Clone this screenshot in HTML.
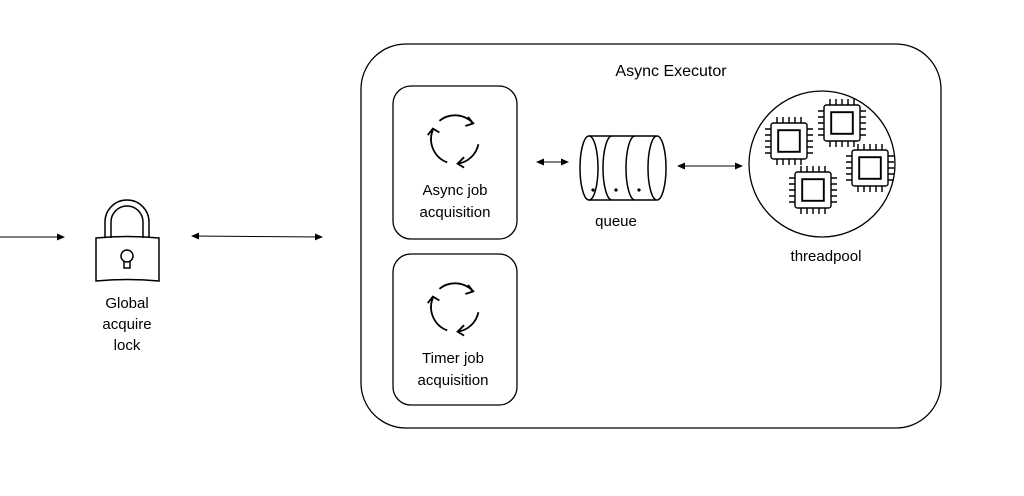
<!DOCTYPE html>
<html><head><style>body{margin:0;background:#fff}svg{display:block}text{font-family:"Liberation Sans",sans-serif;font-size:15px;fill:#000;text-anchor:middle}</style></head><body>
<svg width="1024" height="496" viewBox="0 0 1024 496">
<defs>
<marker id="a" markerWidth="8" markerHeight="8" refX="7" refY="4" orient="auto-start-reverse" markerUnits="userSpaceOnUse"><path d="M0,0.5 L8,4 L0,7.5z" fill="#000"/></marker>
<g id="chip" fill="none" stroke="#000" stroke-width="1.2">
<rect x="-15" y="-15" width="30" height="30" rx="2"/><rect x="-9" y="-9" width="18" height="18" stroke-width="1.6"/>
<path d="M-10,-15v-5M-5,-15v-5M0,-15v-5M5,-15v-5M10,-15v-5M-10,15v5M-5,15v5M0,15v5M5,15v5M10,15v5M-15,-10h-5M-15,-5h-5M-15,0h-5M-15,5h-5M-15,10h-5M15,-10h5M15,-5h5M15,0h5M15,5h5M15,10h5"/>
</g>
<g id="cyc" fill="none" stroke="#000" stroke-width="1.4">
<path d="M-12,-14 A19,19 0 0 1 14,-12"/><path d="M10,-17 L14,-12 L8,-10"/>
<path d="M18,4 A19,19 0 0 1 2,19"/><path d="M7,14 L2,19 L7,22"/>
<path d="M-6,18 A19,19 0 0 1 -17,-7"/><path d="M-21,-3 L-17,-8 L-12,-5"/>
</g>
</defs>
<line x1="0" y1="237" x2="64" y2="237" stroke="#000" marker-end="url(#a)"/>
<line x1="192" y1="236" x2="322" y2="237" stroke="#000" marker-start="url(#a)" marker-end="url(#a)"/>
<g fill="none" stroke="#000" stroke-width="1.5">
<path d="M105,238 V222 A22,22 0 0 1 149,222 V238 M111,238 V222 A16,16 0 0 1 143,222 V238"/>
<path d="M96,238 Q127,235 159,238 V281 Q127,278 96,281 Z"/>
<circle cx="127" cy="256" r="6"/><path d="M124,261 V268 H130 V261"/>
</g>
<text x="127" y="308">Global</text><text x="127" y="329">acquire</text><text x="127" y="350">lock</text>
<rect x="361" y="44" width="580" height="384" rx="45" fill="none" stroke="#000" stroke-width="1.3"/>
<text x="671" y="76" style="font-size:16px">Async Executor</text>
<rect x="393" y="86" width="124" height="153" rx="18" fill="none" stroke="#000" stroke-width="1.3"/>
<rect x="393" y="254" width="124" height="151" rx="18" fill="none" stroke="#000" stroke-width="1.3"/>
<use href="#cyc" transform="translate(455,139) scale(1.3)"/><use href="#cyc" transform="translate(455,307) scale(1.3)"/>
<text x="455" y="195">Async job</text><text x="455" y="217">acquisition</text>
<text x="453" y="363">Timer job</text><text x="453" y="385">acquisition</text>
<line x1="537" y1="162" x2="568" y2="162" stroke="#000" marker-start="url(#a)" marker-end="url(#a)"/>
<line x1="678" y1="166" x2="742" y2="166" stroke="#000" marker-start="url(#a)" marker-end="url(#a)"/>
<g fill="none" stroke="#000" stroke-width="1.5">
<path d="M589,136 H656 M589,200 H656"/>
<ellipse cx="589" cy="168" rx="9" ry="32"/>
<path d="M612,136 A9,32 0 0 0 612,200 M635,136 A9,32 0 0 0 635,200"/>
<ellipse cx="657" cy="168" rx="9" ry="32"/>
</g>
<circle cx="593" cy="190" r="1.6"/><circle cx="616" cy="190" r="1.6"/><circle cx="639" cy="190" r="1.6"/>
<text x="616" y="226">queue</text>
<circle cx="822" cy="164" r="73" fill="none" stroke="#000" stroke-width="1.3"/>
<use href="#chip" transform="translate(789,141) scale(1.2)"/><use href="#chip" transform="translate(842,123) scale(1.2)"/><use href="#chip" transform="translate(870,168) scale(1.2)"/><use href="#chip" transform="translate(813,190) scale(1.2)"/>
<text x="826" y="261">threadpool</text>
</svg>
</body></html>
